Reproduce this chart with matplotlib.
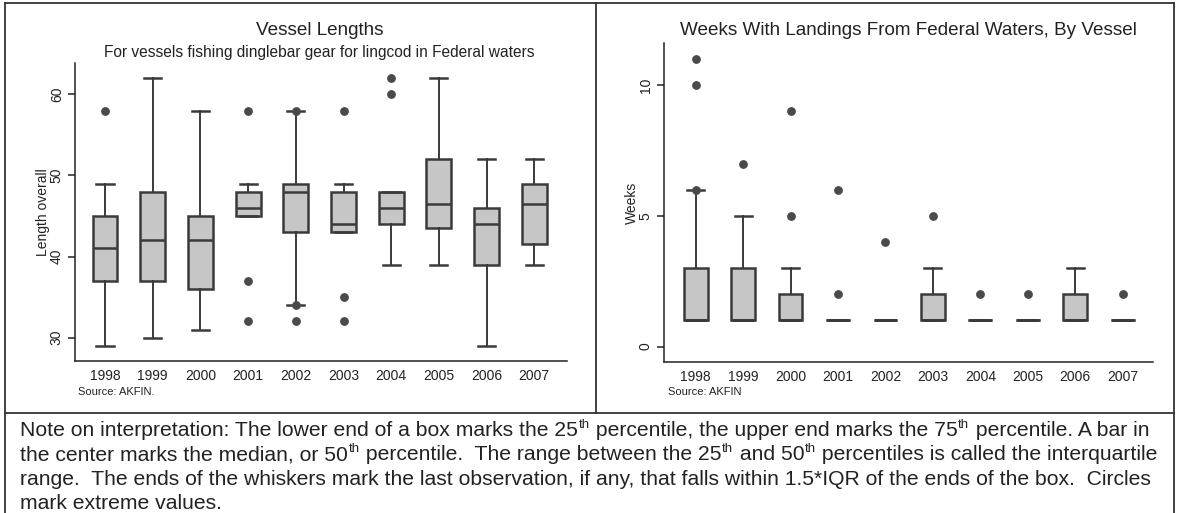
import matplotlib
matplotlib.use("Agg")
import matplotlib.pyplot as plt
from matplotlib.lines import Line2D

plt.rcParams['font.family'] = ['Liberation Sans', 'DejaVu Sans']

# donnees
years = ["1998", "1999", "2000", "2001", "2002", "2003", "2004", "2005", "2006", "2007"]

# longueur des navires (Length overall)
len_lo = [29, 30, 31, 45, 34, 43, 39, 39, 29, 39]
len_q1 = [37, 37, 36, 45, 43, 43, 44, 43.5, 39, 41.5]
len_med = [41, 42, 42, 46, 48, 44, 46, 46.5, 44, 46.5]
len_q3 = [45, 48, 45, 48, 49, 48, 48, 52, 46, 49]
len_hi = [49, 62, 58, 49, 58, 49, 48, 62, 52, 52]
len_out = [[58], [], [], [58, 37, 32], [58, 34, 32], [58, 35, 32], [62, 60], [], [], []]

# semaines avec debarquements (Weeks)
wk_lo = [1, 1, 1, 1, 1, 1, 1, 1, 1, 1]
wk_q1 = [1, 1, 1, 1, 1, 1, 1, 1, 1, 1]
wk_med = [1, 1, 1, 1, 1, 1, 1, 1, 1, 1]
wk_q3 = [3, 3, 2, 1, 1, 2, 1, 1, 2, 1]
wk_hi = [6, 5, 3, 1, 1, 3, 1, 1, 3, 1]
wk_out = [[11, 10, 6], [7], [9, 5], [6, 2], [4], [5], [2], [2], [], [2]]

# note : morceaux de texte, True = exposant
note_lines = [
    [("Note on interpretation: The lower end of a box marks the 25", False), ("th", True),
     (" percentile, the upper end marks the 75", False), ("th", True),
     (" percentile. A bar in", False)],
    [("the center marks the median, or 50", False), ("th", True),
     (" percentile.  The range between the 25", False), ("th", True),
     (" and 50", False), ("th", True),
     (" percentiles is called the interquartile", False)],
    [("range.  The ends of the whiskers mark the last observation, if any, that falls within 1.5*IQR of the ends of the box.  Circles", False)],
    [("mark extreme values.", False)],
]

W, H = 1177, 513
TXT = '#222222'
EDGE = '#3a3a3a'
BOX = '#c6c6c6'
DOT = '#4a4a4a'


def fx(px):
    return px / W


def fy(py):
    return 1 - py / H


def make_stats(lo, q1, med, q3, hi, out):
    res = []
    for i in range(len(years)):
        res.append(dict(whislo=lo[i], q1=q1[i], med=med[i], q3=q3[i],
                        whishi=hi[i], fliers=out[i]))
    return res


def dessine_boites(ax, st, width):
    ax.bxp(st, positions=range(len(st)), widths=width, capwidths=0.36,
           patch_artist=True, showfliers=True,
           boxprops=dict(facecolor=BOX, edgecolor=EDGE, linewidth=1.8),
           medianprops=dict(color=EDGE, linewidth=1.8),
           whiskerprops=dict(color=EDGE, linewidth=1.4),
           capprops=dict(color=EDGE, linewidth=1.8),
           flierprops=dict(marker='o', markerfacecolor=DOT, markeredgecolor=DOT,
                           markersize=5.3))
    for s in ['top', 'right']:
        ax.spines[s].set_visible(False)
    for s in ['left', 'bottom']:
        ax.spines[s].set_linewidth(1.1)
        ax.spines[s].set_color(TXT)
    ax.set_xticks(range(len(years)))
    ax.set_xticklabels(years)
    ax.tick_params(axis='x', length=0, pad=6, labelsize=10, labelcolor=TXT)
    ax.tick_params(axis='y', length=5, width=1.1, color=TXT, pad=3, labelsize=10,
                   labelcolor=TXT, labelrotation=90)


def ligne_note(fig, parts, x0, base, size):
    # ecrit une ligne morceau par morceau, les "th" en exposant
    renderer = fig.canvas.get_renderer()
    x = x0
    for txt, sup in parts:
        if sup:
            t = fig.text(fx(x + 0.5), fy(base - 8), txt, ha='left', va='baseline',
                         fontsize=size * 0.62, color=TXT)
        else:
            t = fig.text(fx(x), fy(base), txt, ha='left', va='baseline',
                         fontsize=size, color=TXT)
        x = x + t.get_window_extent(renderer).width + (1 if sup else 0)


fig = plt.figure(figsize=(W / 100, H / 100), dpi=100)

# panneau gauche
ax1 = fig.add_axes([fx(75), fy(361), fx(566.7 - 75), (361 - 63) / H])
dessine_boites(ax1, make_stats(len_lo, len_q1, len_med, len_q3, len_hi, len_out), 0.52)
ax1.set_xlim(-0.63, 9.68)
ax1.set_ylim(27.13, 63.86)
ax1.set_yticks([30, 40, 50, 60])
for lab in ax1.get_yticklabels():
    lab.set_va('center')

# panneau droit
ax2 = fig.add_axes([fx(664), fy(362), fx(1153 - 664), (362 - 43) / H])
dessine_boites(ax2, make_stats(wk_lo, wk_q1, wk_med, wk_q3, wk_hi, wk_out), 0.5)
ax2.set_xlim(-0.67, 9.64)
ax2.set_ylim(-0.59, 11.62)
ax2.set_yticks([0, 5, 10])
for lab in ax2.get_yticklabels():
    lab.set_va('center')

# titres
fig.text(fx(319.5), fy(31), "Vessel Lengths", ha='center', va='center', fontsize=13.6, color=TXT)
fig.text(fx(319.5), fy(53), "For vessels fishing dinglebar gear for lingcod in Federal waters",
         ha='center', va='center', fontsize=11.2, color=TXT)
fig.text(fx(908.5), fy(31), "Weeks With Landings From Federal Waters, By Vessel",
         ha='center', va='center', fontsize=13.6, color=TXT)

fig.text(fx(43), fy(212), "Length overall", rotation=90, ha='center', va='center', fontsize=10, color=TXT)
fig.text(fx(632), fy(203), "Weeks", rotation=90, ha='center', va='center', fontsize=10, color=TXT)

fig.text(fx(78), fy(392), "Source: AKFIN.", ha='left', va='center', fontsize=8, color=TXT)
fig.text(fx(668), fy(392), "Source: AKFIN", ha='left', va='center', fontsize=8, color=TXT)

# note sous les graphiques
baselines = [436, 460.5, 485, 509]
for parts, b in zip(note_lines, baselines):
    ligne_note(fig, parts, 20, b, 15.2)

# cadres
bord = dict(color='#333333', linewidth=1.3, transform=fig.transFigure)
fig.add_artist(Line2D([fx(5), fx(1174)], [fy(3), fy(3)], **bord))
fig.add_artist(Line2D([fx(5), fx(5)], [fy(3), fy(513)], **bord))
fig.add_artist(Line2D([fx(1174), fx(1174)], [fy(3), fy(513)], **bord))
fig.add_artist(Line2D([fx(596), fx(596)], [fy(3), fy(413)], **bord))
fig.add_artist(Line2D([fx(5), fx(1174)], [fy(413), fy(413)], **bord))

fig.savefig("out.png", dpi=100)
